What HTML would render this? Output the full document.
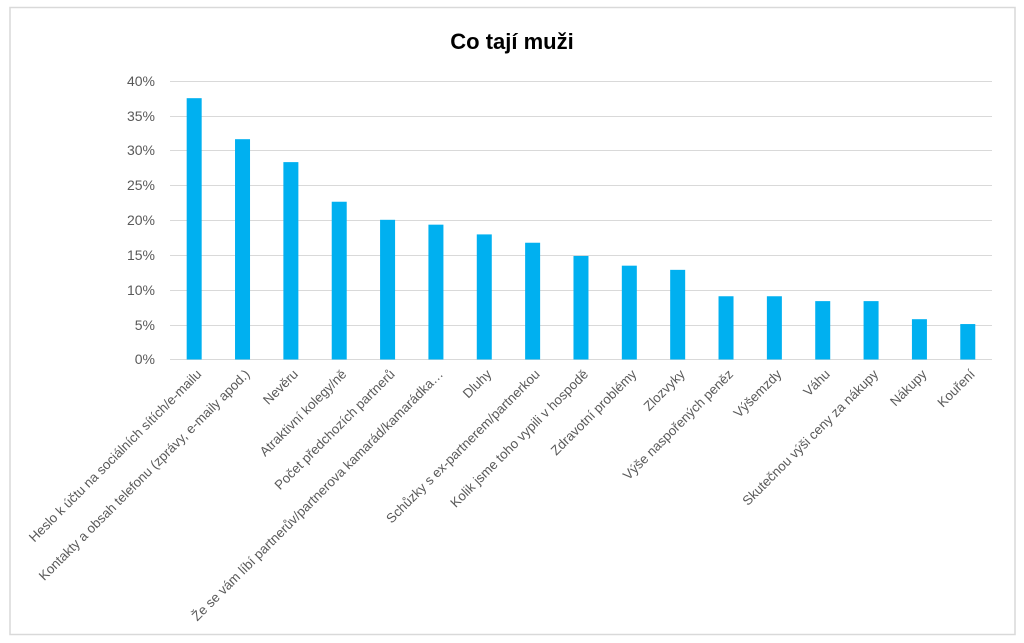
<!DOCTYPE html>
<html><head><meta charset="utf-8"><style>body{margin:0;background:#fff}svg{display:block}</style></head><body>
<svg width="1024" height="643" xmlns="http://www.w3.org/2000/svg" font-family="Liberation Sans, sans-serif">
<rect x="10" y="7.5" width="1005" height="627" fill="#fff" stroke="#d9d9d9" stroke-width="1.5"/>
<text x="512" y="49" text-anchor="middle" font-size="22" font-weight="bold" fill="#000">Co tají muži</text>
<g stroke="#d9d9d9" stroke-width="1">
<line x1="170" x2="992" y1="81.5" y2="81.5"/><line x1="170" x2="992" y1="116.5" y2="116.5"/>
<line x1="170" x2="992" y1="150.5" y2="150.5"/><line x1="170" x2="992" y1="185.5" y2="185.5"/>
<line x1="170" x2="992" y1="220.5" y2="220.5"/><line x1="170" x2="992" y1="255.5" y2="255.5"/>
<line x1="170" x2="992" y1="290.5" y2="290.5"/><line x1="170" x2="992" y1="325.5" y2="325.5"/>
<line x1="170" x2="992" y1="359.5" y2="359.5"/>
</g>
<g font-size="14" fill="#595959" text-anchor="end">
<text x="155" y="86">40%</text><text x="155" y="121">35%</text><text x="155" y="155">30%</text>
<text x="155" y="190">25%</text><text x="155" y="225">20%</text><text x="155" y="260">15%</text>
<text x="155" y="295">10%</text><text x="155" y="330">5%</text><text x="155" y="364">0%</text>
</g>
<g fill="#00b0f0" id="bars"></g>
<g font-size="13.3" fill="#595959" text-anchor="end" id="labels"></g>
<script>
var v=[37.6,31.7,28.4,22.7,20.1,19.4,18,16.8,14.9,13.5,12.9,9.1,9.1,8.4,8.4,5.8,5.1];
var l=["Heslo k účtu na sociálních sítích/e-mailu","Kontakty a obsah telefonu (zprávy, e-maily apod.)","Nevěru","Atraktivní kolegy/ně","Počet předchozích partnerů","Že se vám líbí partnerův/partnerova kamarád/kamarádka…","Dluhy","Schůzky s ex-partnerem/partnerkou","Kolik jsme toho vypili v hospodě","Zdravotní problémy","Zlozvyky","Výše naspořených peněz","Výšemzdy","Váhu","Skutečnou výši ceny za nákupy","Nákupy","Kouření"];
var b=document.getElementById('bars'),t=document.getElementById('labels'),ns="http://www.w3.org/2000/svg";
for(var i=0;i<17;i++){var cx=170+48.35*(i+0.5),h=v[i]/40*278;
var r=document.createElementNS(ns,'rect');r.setAttribute('x',cx-7.5);r.setAttribute('y',359.5-h);r.setAttribute('width',15);r.setAttribute('height',h);b.appendChild(r);
var x=cx+8,y=375;var s=document.createElementNS(ns,'text');s.setAttribute('x',x);s.setAttribute('y',y);s.setAttribute('transform','rotate(-45 '+x+' '+y+')');s.textContent=l[i];t.appendChild(s);}
</script>
</svg>
</body></html>
